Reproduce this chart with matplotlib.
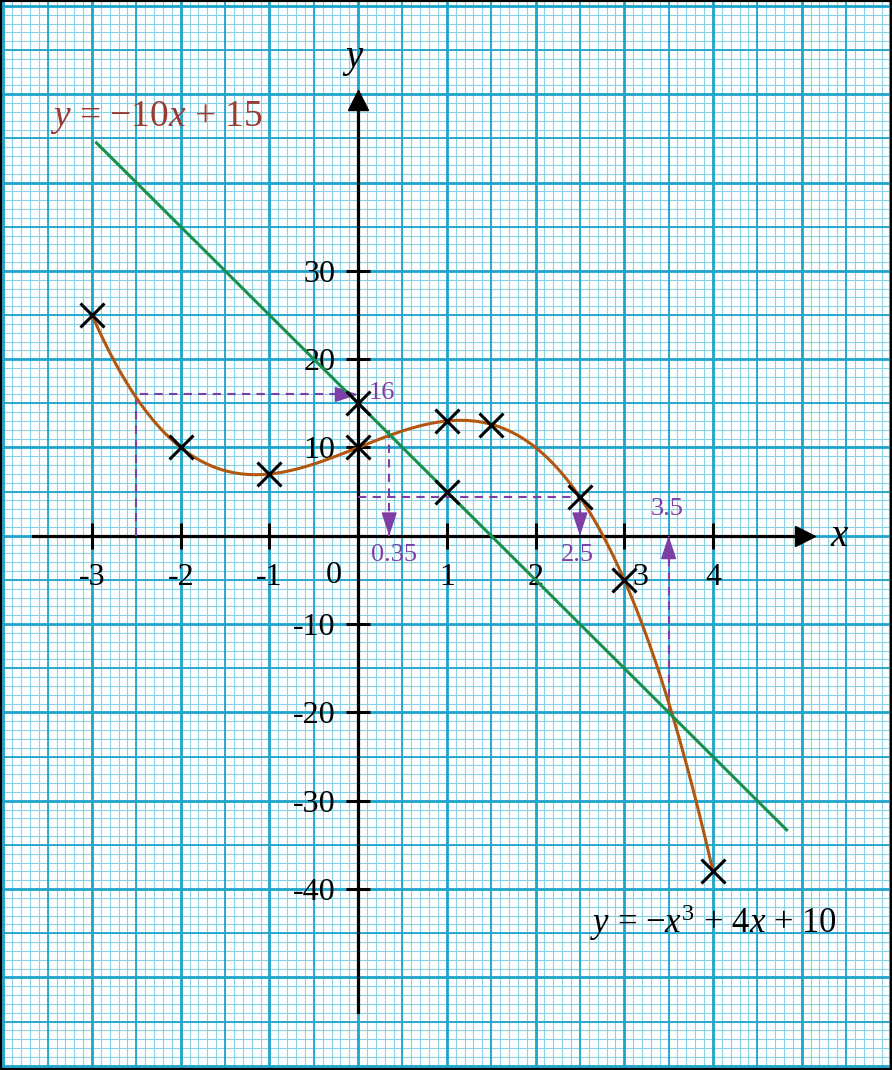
import numpy as np
import matplotlib
matplotlib.use('Agg')
from matplotlib import pyplot as plt
from matplotlib.transforms import ScaledTranslation

plt.rcParams['font.family'] = ['Liberation Serif', 'DejaVu Serif']
plt.rcParams['mathtext.fontset'] = 'custom'
plt.rcParams['mathtext.rm'] = 'Liberation Serif'
plt.rcParams['mathtext.it'] = 'Liberation Serif:italic'

# table of values for y = -x^3 + 4x + 10
cubic_x = [-3, -2, -1, 0, 1, 1.5, 2.5, 3, 4]
cubic_y = [25, 10, 7, 10, 13, 12.6, 4.4, -5, -38]
# points used for the straight line y = -10x + 15
line_x = [0, 1]
line_y = [15, 5]
line_span = [-2.95, 4.83]

xtick_vals = [-3, -2, -1, 1, 2, 3, 4]
ytick_vals = [30, 20, 10, -10, -20, -30, -40]

purple = '#7d3fa6'
grid_major = '#1ea4cb'
grid_minor = '#8ad1e6'

fig = plt.figure(figsize=(8.92, 10.70), dpi=100)
ax = fig.add_axes([0, 0, 1, 1])
ax.set_xlim(-4.037, 6.018)
ax.set_ylim(-60.49, 60.67)

# graph paper
for gx in np.arange(-4.0, 6.05, 0.1):
    ax.axvline(gx, color=grid_minor, lw=0.8, zorder=0)
for gy in np.arange(-60, 61, 1):
    ax.axhline(gy, color=grid_minor, lw=0.8, zorder=0)
for gx in np.arange(-3.5, 6.0, 1):
    ax.axvline(gx, color=grid_major, lw=1.3, zorder=0.5)
for gy in np.arange(-55, 61, 10):
    ax.axhline(gy, color=grid_major, lw=1.3, zorder=0.5)
for gx in np.arange(-4, 7, 1):
    ax.axvline(gx, color=grid_major, lw=2.0, zorder=0.6)
for gy in np.arange(-60, 61, 10):
    ax.axhline(gy, color=grid_major, lw=2.0, zorder=0.6)

# axes through the origin
for side in ['top', 'right']:
    ax.spines[side].set_visible(False)
ax.spines['left'].set_position(('data', 0))
ax.spines['bottom'].set_position(('data', 0))
ax.spines['bottom'].set_bounds(-3.66, 5.0)
ax.spines['left'].set_bounds(-53.9, 49.0)
for side in ['left', 'bottom']:
    ax.spines[side].set_linewidth(2.3)
    ax.spines[side].set_zorder(4)
ax.plot(5.04, 0, marker='>', ms=15, color='black', clip_on=False, zorder=4)
ax.plot(0, 49.35, marker='^', ms=15, color='black', clip_on=False, zorder=4)

ax.set_xticks(xtick_vals)
ax.set_xticklabels([str(v) for v in xtick_vals])
ax.set_yticks(ytick_vals)
ax.set_yticklabels([str(v) for v in ytick_vals])
ax.tick_params(axis='x', direction='inout', length=19, width=2.2, labelsize=23, pad=10)
ax.tick_params(axis='y', direction='inout', length=17, width=2.2, labelsize=23, pad=8)
for lab in ax.get_xticklabels():
    if lab.get_text() == '3':
        lab.set_transform(lab.get_transform() + ScaledTranslation(0.16, 0, fig.dpi_scale_trans))
ax.text(-0.28, -4.5, '0', fontsize=23, ha='center', va='center')
ax.text(5.43, -0.1, '$x$', fontsize=28, ha='center', va='center')
ax.text(-0.06, 53.9, '$y$', fontsize=28, ha='center', va='center')

# curve and line
cx = np.linspace(cubic_x[0], cubic_x[-1], 300)
ax.plot(cx, np.polyval(np.polyfit(cubic_x, cubic_y, 3), cx), color='#b3570f', lw=2.2, zorder=5)
lx = np.linspace(line_span[0], line_span[1], 2)
ax.plot(lx, np.polyval(np.polyfit(line_x, line_y, 1), lx), color='#17904a', lw=2.2, zorder=5)
ax.plot(cubic_x, cubic_y, 'x', ms=17, mew=2.2, color='black', zorder=6)
ax.plot(line_x, line_y, 'x', ms=17, mew=2.2, color='black', zorder=6)

# read-off lines
dash = dict(color=purple, lw=1.5, ls=(0, (4, 3)), zorder=4.5)
head = dict(arrowstyle='-|>,head_length=0.6,head_width=0.2', color=purple, lw=1.2,
            shrinkA=0, shrinkB=0, mutation_scale=24)
ax.plot([-2.5, -2.5, 0], [0, 16, 16], **dash)
ax.annotate('', xy=(0, 16), xytext=(-0.15, 16), arrowprops=head, zorder=4.6)
ax.plot([0.35, 0.35], [12, 0], **dash)
ax.annotate('', xy=(0.35, 0), xytext=(0.35, 1.5), arrowprops=head, zorder=4.6)
ax.plot([0, 2.5, 2.5], [4.4, 4.4, 0], **dash)
ax.annotate('', xy=(2.5, 0), xytext=(2.5, 1.5), arrowprops=head, zorder=4.6)
ax.plot([3.5, 3.5], [-20, 0], **dash)
ax.annotate('', xy=(3.5, 0), xytext=(3.5, -1.5), arrowprops=head, zorder=4.6)

ax.text(0.12, 16.2, '16', color=purple, fontsize=19, ha='left', va='center')
ax.text(0.40, -2.15, '0.35', color=purple, fontsize=19, ha='center', va='center')
ax.text(2.47, -2.15, '2.5', color=purple, fontsize=19, ha='center', va='center')
ax.text(3.48, 3.05, '3.5', color=purple, fontsize=19, ha='center', va='center')

# equations
ax.text(-3.47, 46.4, '$y$ = \u221210$x$ + 15', color='#9a3b33', fontsize=27,
        ha='left', va='baseline')
ax.text(2.61, -44.95, '$y$ = \u2212$x^{3}$ + 4$x$ + 10', color='black', fontsize=25,
        ha='left', va='baseline')

# frame
fig.patches.append(plt.Rectangle((0, 0), 1, 1, transform=fig.transFigure, fill=False,
                                 edgecolor='black', lw=3, zorder=10))

fig.savefig('out.png', dpi=100)
